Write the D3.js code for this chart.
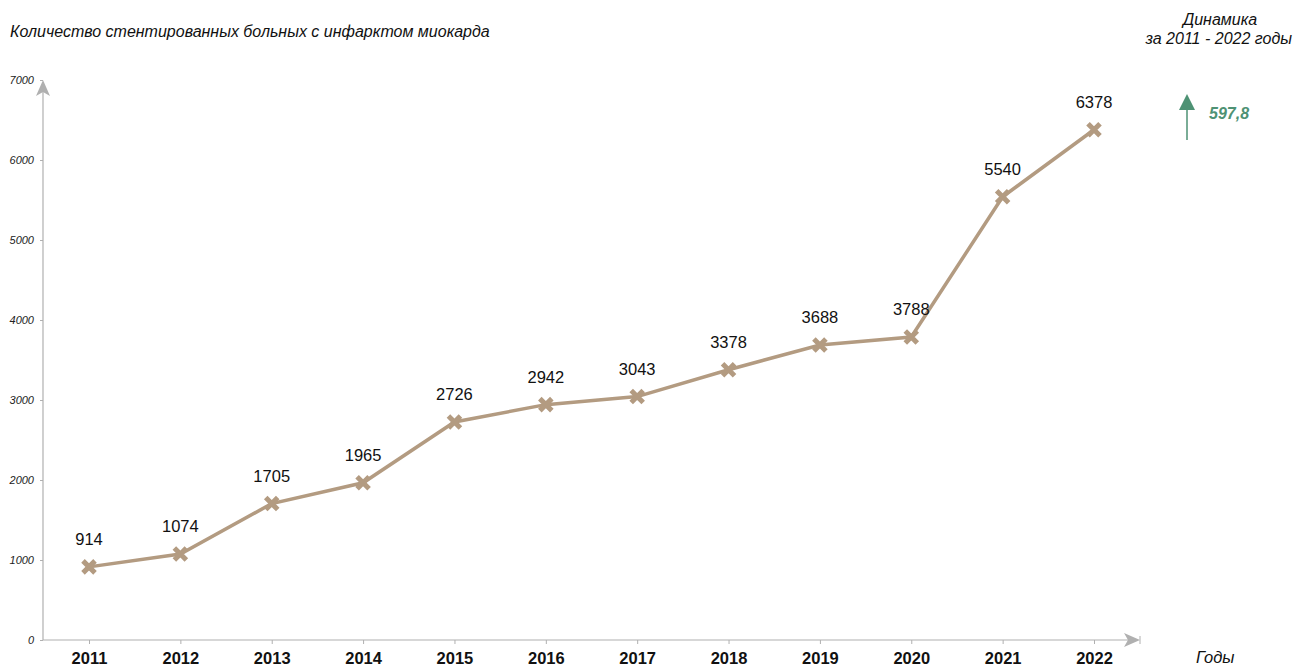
<!DOCTYPE html>
<html><head><meta charset="utf-8">
<script src="https://cdn.jsdelivr.net/npm/d3@7"></script>
<style>body{margin:0;background:#fff;font-family:"Liberation Sans",Arial,sans-serif;}</style>
</head><body>
<svg id="c" width="1295" height="666"></svg>
<script>
const years = ["2011","2012","2013","2014","2015","2016","2017","2018","2019","2020","2021","2022"];
const values = [914,1074,1705,1965,2726,2942,3043,3378,3688,3788,5540,6378];
const yTicks = [0,1000,2000,3000,4000,5000,6000,7000];
const title = "Количество стентированных больных с инфарктом миокарда";
const dynLines = ["Динамика","за 2011 - 2022 годы"];
const dynValue = "597,8";
const xTitle = "Годы";

const svg = d3.select("#c");
const lineColor = "#b39b81", axisColor = "#b0b0b0", green = "#4e9274";
const x = d3.scalePoint().domain(years).range([89,1094]);
const y = d3.scaleLinear().domain([0,7000]).range([640,80]);

// axes
const yAxis = svg.append("g").attr("transform","translate(43,0)")
  .call(d3.axisLeft(y).tickValues(yTicks).tickSize(3).tickPadding(6).tickFormat(d3.format("d")));
yAxis.select(".domain").remove();
yAxis.selectAll("line").attr("stroke",axisColor);
yAxis.selectAll("text").attr("font-size",11).attr("font-style","italic").attr("fill","#222")
  .attr("font-family","Liberation Sans, Arial, sans-serif");
svg.append("line").attr("x1",43).attr("x2",43).attr("y1",640).attr("y2",88).attr("stroke",axisColor).attr("stroke-width",1.2);
svg.append("path").attr("d","M43,80 L50,96 L43,92 L36,96 Z").attr("fill",axisColor);

const xAxis = svg.append("g").attr("transform","translate(0,640)")
  .call(d3.axisBottom(x).tickSize(4).tickPadding(0));
xAxis.select(".domain").remove();
xAxis.selectAll("line").attr("stroke",axisColor);
xAxis.selectAll("text").attr("dy",null).attr("y",24).attr("font-size",16.5).attr("font-weight","bold").attr("fill","#111")
  .attr("font-family","Liberation Sans, Arial, sans-serif");
svg.append("line").attr("x1",43).attr("x2",1132).attr("y1",640).attr("y2",640).attr("stroke",axisColor).attr("stroke-width",1.2);
svg.append("path").attr("d","M1140,640 L1124,633 L1128,640 L1124,647 Z").attr("fill",axisColor);
svg.append("line").attr("x1",1140).attr("x2",1140).attr("y1",636).attr("y2",644).attr("stroke",axisColor);

// line
svg.append("path").datum(values)
  .attr("d", d3.line().x((d,i)=>x(years[i])).y(d=>y(d)))
  .attr("fill","none").attr("stroke",lineColor).attr("stroke-width",3.5);

// markers
const s = 6;
svg.selectAll(".m").data(values).enter().append("path")
  .attr("transform",(d,i)=>`translate(${x(years[i])},${y(d)})`)
  .attr("d",`M${-s},${-s}L${s},${s}M${s},${-s}L${-s},${s}`)
  .attr("stroke",lineColor).attr("stroke-width",5);

// data labels
svg.selectAll(".lbl").data(values).enter().append("text")
  .attr("x",(d,i)=>x(years[i])).attr("y",d=>y(d)-22)
  .attr("text-anchor","middle").attr("font-size",16.5).attr("fill","#111").text(d=>d);

// title
svg.append("text").attr("x",10).attr("y",37).attr("font-size",16).attr("font-style","italic").attr("fill","#111").text(title);

// dynamics
svg.append("text").attr("x",1220).attr("y",25).attr("text-anchor","middle").attr("font-size",16).attr("font-style","italic").attr("fill","#111").text(dynLines[0]);
svg.append("text").attr("x",1292).attr("y",44).attr("text-anchor","end").attr("font-size",16).attr("font-style","italic").attr("fill","#111").text(dynLines[1]);
svg.append("line").attr("x1",1187).attr("x2",1187).attr("y1",106).attr("y2",140).attr("stroke",green).attr("stroke-width",1.5);
svg.append("path").attr("d","M1187,94 L1195,110 L1179,110 Z").attr("fill",green);
svg.append("text").attr("x",1209).attr("y",119).attr("font-size",16).attr("font-weight","bold").attr("font-style","italic").attr("fill",green).text(dynValue);

// x title
svg.append("text").attr("x",1196).attr("y",663).attr("font-size",16.5).attr("font-style","italic").attr("fill","#111").text(xTitle);
</script>
</body></html>
